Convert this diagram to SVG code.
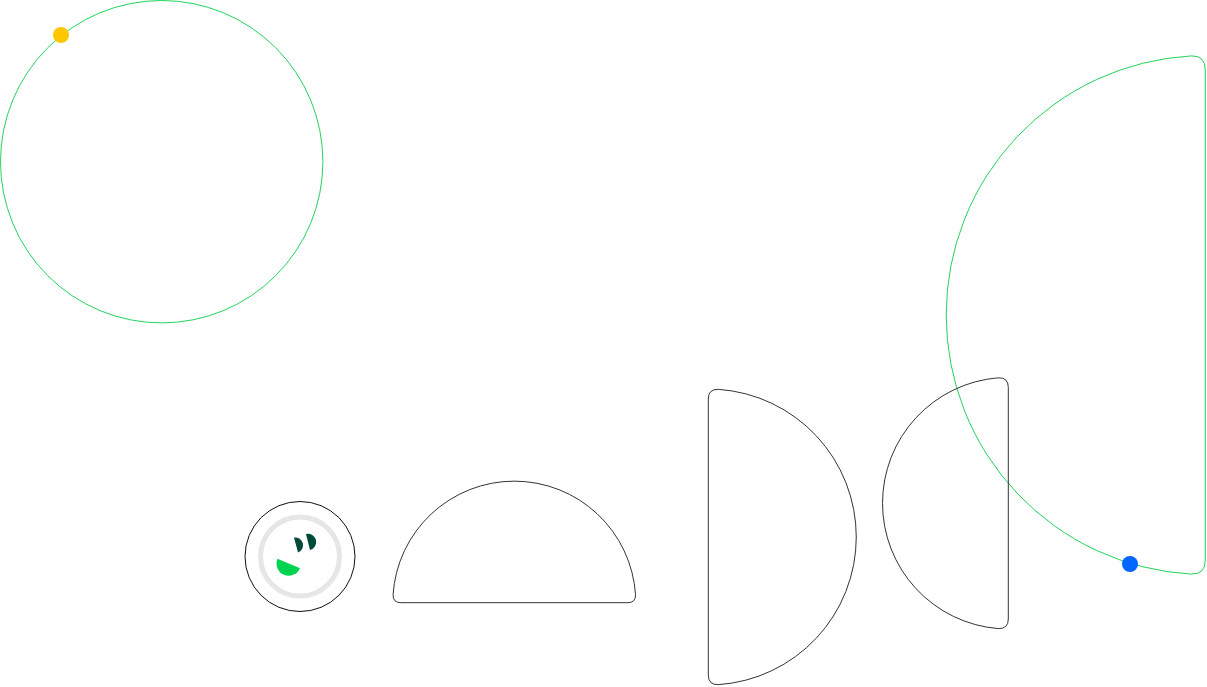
<svg xmlns="http://www.w3.org/2000/svg" width="1207" height="687" viewBox="0 0 1207 687">
<style>
.g{fill:none;stroke:#22d35c;stroke-width:1}
.k{fill:none;stroke:#333;stroke-width:1}
</style>
<rect width="1207" height="687" fill="#fff"/>
<g id="circle-top-left">
<circle class="g" cx="161.7" cy="161.7" r="161.2"/>
<circle cx="61" cy="35" r="8" fill="#ffc700"/>
</g>
<g id="half-green">
<path class="g" d="M1205.3 70 Q1205.3 55.5 1191.3 55.9 A259.5 259.5 0 0 0 1191.3 574.1 Q1205.3 574.5 1205.3 560 Z"/>
<circle cx="1130" cy="564" r="8" fill="#0066ff"/>
</g>
<g id="face">
<circle cx="300" cy="556.5" r="55" fill="#fff" stroke="#111" stroke-width="1"/>
<circle cx="300" cy="556.5" r="39.5" fill="none" stroke="#e6e6e6" stroke-width="5"/>
<path d="M294 537.5 A7.8 7.8 0 0 1 298 552.5 Z" fill="#004a3a"/>
<path d="M306 534 A8.2 8.2 0 0 1 310 550 Z" fill="#004a3a"/>
<path d="M277.5 558.8 A12.2 12.2 0 0 0 300 568.3 Z" fill="#00d34f"/>
</g>
<g id="half-bottom">
<path class="k" d="M400.8 602.7 Q392.8 602.7 393.06 594.7 A121.5 121.5 0 0 1 635.54 594.7 Q635.8 602.7 627.8 602.7 Z"/>
</g>
<g id="half-left">
<path class="k" d="M708.3 399 Q708.3 389 718.3 389.34 A148 148 0 0 1 718.3 684.66 Q708.3 685 708.3 675 Z"/>
</g>
<g id="half-right">
<path class="k" d="M1008.3 387.4 Q1008.3 377.4 998.3 377.8 A125.8 125.8 0 0 0 998.3 628.6 Q1008.3 629 1008.3 619 Z"/>
</g>
<g id="connectors"></g>
</svg>
